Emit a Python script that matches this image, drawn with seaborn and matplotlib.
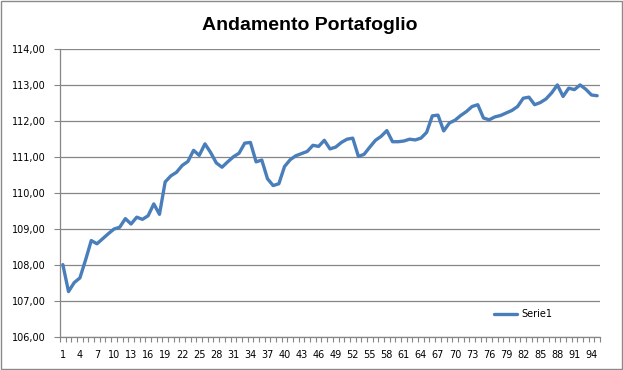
import matplotlib
matplotlib.use("Agg")
import matplotlib.pyplot as plt
import seaborn as sns
import pandas as pd
import numpy as np
from matplotlib.patches import Rectangle
from matplotlib.ticker import FuncFormatter, FixedLocator

title = "Andamento Portafoglio"
series_name = "Serie1"
values = [
    108.00, 107.25, 107.50, 107.63, 108.13, 108.67, 108.58, 108.72, 108.86, 108.99,
    109.04, 109.28, 109.13, 109.32, 109.26, 109.36, 109.69, 109.40, 110.30, 110.47,
    110.57, 110.76, 110.87, 111.18, 111.04, 111.36, 111.12, 110.83, 110.71, 110.86,
    111.00, 111.10, 111.38, 111.40, 110.86, 110.91, 110.39, 110.20, 110.25, 110.73,
    110.92, 111.03, 111.09, 111.15, 111.32, 111.29, 111.46, 111.22, 111.27, 111.40,
    111.49, 111.52, 111.01, 111.07, 111.27, 111.46, 111.57, 111.73, 111.42, 111.42,
    111.44, 111.49, 111.47, 111.52, 111.68, 112.14, 112.16, 111.72, 111.94, 112.02,
    112.15, 112.26, 112.40, 112.45, 112.08, 112.03, 112.11, 112.15, 112.22, 112.29,
    112.40, 112.63, 112.66, 112.45, 112.51, 112.61, 112.78, 113.00, 112.68, 112.91,
    112.87, 113.00, 112.88, 112.72, 112.70,
]
categories = list(range(1, len(values) + 1))
x_labels = list(range(1, len(values) + 1, 3))
y_ticks = [106, 107, 108, 109, 110, 111, 112, 113, 114]

df = pd.DataFrame({"x": categories, "y": values, "serie": series_name})

sns.set_theme(style="white")
plt.rcParams['font.family'] = ['DejaVu Sans']
plt.rcParams['text.color'] = 'black'

W, H = 623, 370
fig = plt.figure(figsize=(W / 100, H / 100), dpi=100)
fig.patch.set_facecolor("white")
ax = fig.add_axes([60 / W, 1 - 336.5 / H, 540 / W, (336.5 - 49) / H])

line_color = "#4A7EBB"
grid_color = "#868686"

sns.lineplot(data=df, x="x", y="y", hue="serie", palette=[line_color],
             linewidth=2.4, ax=ax, legend=True)

ax.set_xlim(0.5, len(values) + 0.5)
ax.set_ylim(106, 114)
ax.set_yticks(y_ticks)
ax.yaxis.set_major_formatter(FuncFormatter(lambda v, p: f"{v:.2f}".replace(".", ",")))
ax.set_xticks(x_labels)
ax.set_xticklabels([str(v) for v in x_labels])
ax.xaxis.set_minor_locator(FixedLocator([c - 0.5 for c in categories] + [len(values) + 0.5]))

ax.grid(axis="y", color=grid_color, linewidth=0.9)
ax.grid(axis="x", visible=False)
ax.set_axisbelow(True)
for s in ["top", "right"]:
    ax.spines[s].set_visible(False)
for s in ["left", "bottom"]:
    ax.spines[s].set_color(grid_color)
    ax.spines[s].set_linewidth(0.9)

ax.tick_params(axis="y", which="major", direction="out", length=4, width=0.8,
               color=grid_color, labelsize=7, pad=6, labelcolor="black", left=True)
ax.tick_params(axis="x", which="major", length=0, labelsize=7, pad=9.5,
               labelcolor="black", bottom=True)
ax.tick_params(axis="x", which="minor", direction="out", length=3.5, width=0.8,
               color=grid_color, bottom=True)
ax.set_xlabel("")
ax.set_ylabel("")

fig.text(310 / W, 1 - 26 / H, title, ha="center", va="center", color="black",
         fontsize=14, fontweight="bold", family=["Liberation Sans", "DejaVu Sans"])

h, l = ax.get_legend_handles_labels()
ax.get_legend().remove()
fig.legend(h, l, loc="center left", bbox_to_anchor=(494 / W, 1 - 314 / H),
           frameon=False, fontsize=7, handlelength=2.4, handletextpad=0.4,
           borderpad=0, borderaxespad=0, labelcolor="black")

fig.patches.append(Rectangle((0.6 / W, 0.6 / H), 1 - 1.6 / W, 1 - 1.6 / H,
                             transform=fig.transFigure, fill=False,
                             edgecolor="#8a8a8a", linewidth=1.0))

fig.savefig("out.png", dpi=100)
